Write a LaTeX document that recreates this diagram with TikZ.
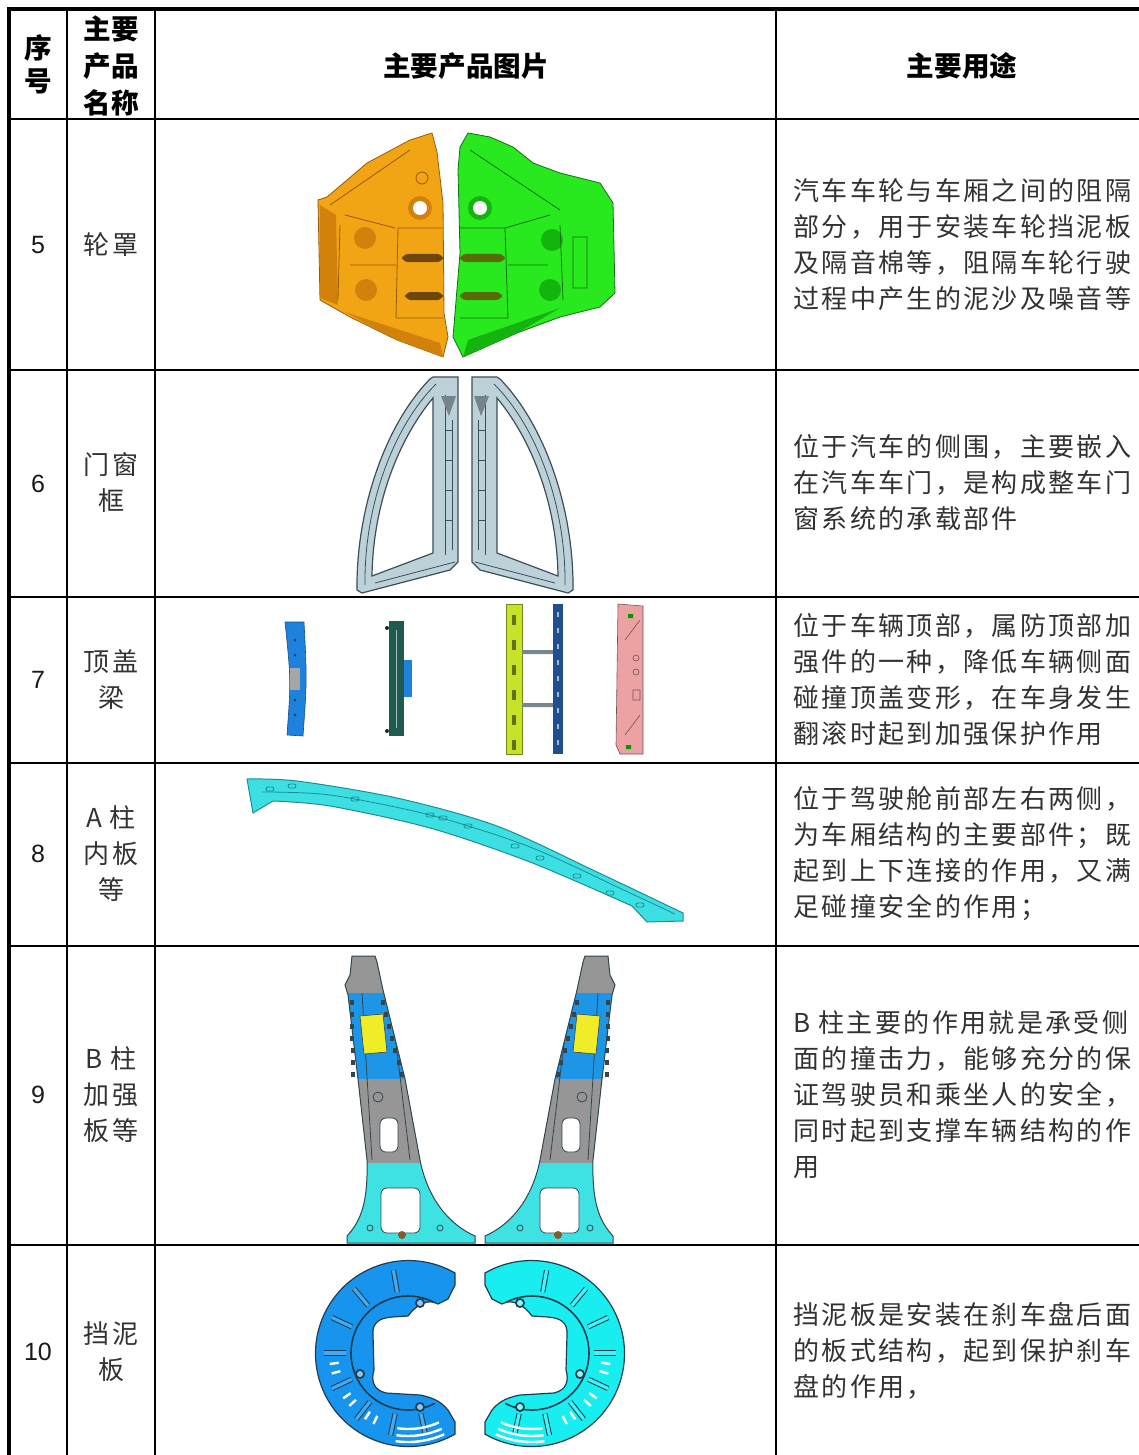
\documentclass[tikz,border=0pt]{standalone}
\usepackage{fontspec}
\usepackage{xcolor}
\setmainfont{Liberation Sans}
\newfontfamily\cjkfont[LetterSpace=9]{Noto Sans CJK SC}
\newfontfamily\cjkhead{Noto Sans CJK SC}
\definecolor{textGray}{RGB}{50,50,50}
\definecolor{housingOrange}{RGB}{242,165,20}
\definecolor{housingOrangeDark}{RGB}{210,130,10}
\definecolor{housingEdge}{RGB}{150,90,10}
\definecolor{housingGreen}{RGB}{40,232,30}
\definecolor{housingGreenDark}{RGB}{20,180,15}
\definecolor{housingGreenEdge}{RGB}{20,110,20}
\definecolor{housingSlot}{RGB}{110,70,10}
\definecolor{frameGray}{RGB}{188,210,216}
\definecolor{frameEdge}{RGB}{60,78,88}
\definecolor{beamBlue}{RGB}{30,130,220}
\definecolor{beamTeal}{RGB}{30,90,78}
\definecolor{beamLime}{RGB}{200,226,40}
\definecolor{beamNavy}{RGB}{30,78,140}
\definecolor{beamPink}{RGB}{236,162,162}
\definecolor{rodGray}{RGB}{120,135,140}
\definecolor{apillarCyan}{RGB}{60,224,226}
\definecolor{apillarEdge}{RGB}{30,140,150}
\definecolor{pillarCyan}{RGB}{62,226,226}
\definecolor{pillarGray}{RGB}{150,150,150}
\definecolor{pillarBlue}{RGB}{30,150,232}
\definecolor{pillarYellow}{RGB}{240,236,40}
\definecolor{pillarEdge}{RGB}{50,70,80}
\definecolor{shieldBlue}{RGB}{22,148,238}
\definecolor{shieldCyan}{RGB}{24,238,240}
\definecolor{shieldEdge}{RGB}{35,60,80}

% B-pillar outline, picture pixels
\newcommand{\pillaroutline}{(352,956) -- (375,956) -- (377,962) -- (383,990) -- (405,1079) -- (420,1160)
  .. controls (428,1200) and (450,1225) .. (475,1236) -- (475,1243) -- (347,1243) -- (347,1236)
  .. controls (362,1220) and (368,1200) .. (367,1160) -- (358,1079) -- (348,995) -- (345,985) -- (350,975) -- cycle}

\tikzset{
  doorframe/.pic={
    \path[fill=frameGray, draw=frameEdge, line width=0.6pt, even odd rule]
      (433,377) -- (458,377) -- (458,562) -- (450,570) -- (362,593) -- (357,590)
      .. controls (356,510) and (385,425) .. (430,379) -- cycle
      (433,398) -- (433,553) -- (372,576) .. controls (373,505) and (398,440) .. (433,398) -- cycle;
    \draw[frameEdge, line width=0.4pt] (365,585) .. controls (364,508) and (392,428) .. (436,384);
    \draw[frameEdge, line width=0.5pt] (445,395) -- (445,555) (452,420) -- (452,550);
    \fill[frameEdge!70] (441,396) -- (456,396) -- (449,416) -- cycle;
    \foreach \ty in {430,460,490,520} \draw[frameEdge, line width=0.5pt] (445,\ty) -- (452,\ty);
    \draw[frameEdge, line width=0.4pt] (375,583) -- (455,562);
  },
  bpillar/.pic={
    \begin{scope}
      \clip \pillaroutline;
      \fill[pillarCyan] (340,950) rectangle (480,1245);
      \fill[pillarGray] (340,950) rectangle (480,1163);
      \fill[pillarBlue] (340,993) rectangle (480,1079);
      \draw[pillarEdge, line width=0.4pt] (362,993) -- (372,1160) (390,993) -- (410,1160);
    \end{scope}
    \draw[pillarEdge, line width=0.5pt] \pillaroutline;
    \fill[pillarYellow, draw=pillarEdge, line width=0.3pt] (360,1016) -- (383,1014) -- (387,1052) -- (364,1054) -- cycle;
    \foreach \ty in {1000,1012,1024,1036,1048,1060,1072} {
      \fill[pillarEdge] (350+\ty*0.012-12,\ty) rectangle ++(4,5);
      \fill[pillarEdge] (383+\ty*0.26-262,\ty) rectangle ++(4,5);
    }
    \fill[white, draw=pillarEdge, rounded corners=3pt] (380,1118) rectangle (398,1152);
    \draw[pillarEdge] (378,1097) circle[radius=5];
    \fill[white, draw=pillarEdge, rounded corners=3pt] (381,1188) rectangle (420,1233);
    \fill[brown!70!black] (402,1235) circle[radius=4];
    \draw[pillarEdge] (370,1228) circle[radius=3] (440,1228) circle[radius=3];
  },
  splashshield/.pic={
    \path[fill=#1, draw=shieldEdge, line width=0.6pt]
      (455,1273) arc[start angle=-60, end angle=-300, radius=93] -- (455,1422) -- (448,1410)
      .. controls (440,1400) and (430,1397) .. (420,1395) -- (386,1393)
      .. controls (373,1390) and (371,1380) .. (374,1370) -- (373,1335)
      .. controls (372,1322) and (380,1318) .. (392,1317) -- (408,1316)
      .. controls (416,1305) and (428,1298) .. (438,1304) -- (448,1299) -- (455,1285) -- cycle;
    \draw[shieldEdge, line width=0.8pt] (408,1353) ++(-62:57) arc[start angle=-62, end angle=-298, radius=57];
    \foreach \a in {-100,-130,-155,-180,-205,-232,-258,-282}
      \draw[shieldEdge, line width=0.5pt, double=#1!80!white, double distance=1.6pt] (408,1353) ++(\a:62) -- ++(\a:22);
    \foreach \bx/\by in {420/1303,360/1374,420/1407} {
      \fill[shieldEdge] (\bx,\by) circle[radius=5];
      \fill[#1!50!white] (\bx,\by) circle[radius=3];
    }
    \foreach \r in {76,83,89}
      \draw[white, line width=1.2pt] (408,1353) ++(66:\r) arc[start angle=66, end angle=98, radius=\r];
    \foreach \a in {165,172,138,145,116,123}
      \draw[white, line width=1.2pt] (408,1353) ++(\a:70) -- ++(\a:9);
  },
}

\begin{document}
\begin{tikzpicture}[x=0.5pt, y=-0.5pt,
  rule/.style={line width=1pt},
  outerrule/.style={line width=2pt},
  headtext/.style={font=\fontsize{13.8}{18.5}\selectfont\cjkhead\bfseries, align=center, inner sep=0pt},
  numtext/.style={font=\fontsize{12.5}{15}\selectfont, text=black!90, inner sep=0pt},
  nametext/.style={font=\fontsize{13}{18}\selectfont\cjkfont, text=textGray, align=center, inner sep=0pt},
  desctext/.style={font=\fontsize{13}{18}\selectfont\cjkfont, text=textGray, align=left, anchor=west, inner sep=0pt},
]
\useasboundingbox (0,0) rectangle (1139,1455);

% table rules
\draw[outerrule] (9,1455) -- (9,9) -- (1139,9);
\draw[rule] (67,9) -- (67,1455) (155,9) -- (155,1455) (776,9) -- (776,1455);
\draw[rule] (9,119) -- (1139,119) (9,370) -- (1139,370) (9,597) -- (1139,597)
  (9,763) -- (1139,763) (9,946) -- (1139,946) (9,1245) -- (1139,1245);

% header
\node[headtext, font=\fontsize{13.8}{16.5}\selectfont\cjkhead\bfseries] (hnum) at (38,64) {序\\号};
\node[headtext] (hname) at (111,66) {主要\\产品\\名称};
\node[headtext] (hpic) at (466,66) {主要产品图片};
\node[headtext] (huse) at (962,66) {主要用途};

% numbers and names
\node[numtext] (n5) at (38,245) {5};
\node[numtext] (n6) at (38,484) {6};
\node[numtext] (n7) at (38,680) {7};
\node[numtext] (n8) at (38,854) {8};
\node[numtext] (n9) at (38,1095) {9};
\node[numtext] (n10) at (38,1352) {10};
\node[nametext] (name5) at (111,245) {轮罩};
\node[nametext] (name6) at (111,483) {门窗\\框};
\node[nametext] (name7) at (111,680) {顶盖\\梁};
\node[nametext] (name8) at (111,854) {A 柱\\内板\\等};
\node[nametext] (name9) at (111,1095) {B 柱\\加强\\板等};
\node[nametext] (name10) at (111,1352) {挡泥\\板};

% uses
\node[desctext] (use5) at (793,245) {汽车车轮与车厢之间的阻隔\\部分，用于安装车轮挡泥板\\及隔音棉等，阻隔车轮行驶\\过程中产生的泥沙及噪音等};
\node[desctext] (use6) at (793,483) {位于汽车的侧围，主要嵌入\\在汽车车门，是构成整车门\\窗系统的承载部件};
\node[desctext] (use7) at (793,680) {位于车辆顶部，属防顶部加\\强件的一种，降低车辆侧面\\碰撞顶盖变形，在车身发生\\翻滚时起到加强保护作用};
\node[desctext] (use8) at (793,854) {位于驾驶舱前部左右两侧，\\为车厢结构的主要部件；既\\起到上下连接的作用，又满\\足碰撞安全的作用；};
\node[desctext] (use9) at (793,1095) {B 柱主要的作用就是承受侧\\面的撞击力，能够充分的保\\证驾驶员和乘坐人的安全，\\同时起到支撑车辆结构的作\\用};
\node[desctext] (use10) at (793,1351) {挡泥板是安装在刹车盘后面\\的板式结构，起到保护刹车\\盘的作用，};

% wheel housing, orange half
\fill[housingOrange, draw=housingEdge, line width=0.4pt] (432,133) -- (437,152) -- (443,203) -- (444,313) -- (448,337)
  -- (443,357) -- (397,340) -- (350,317) -- (320,300) -- (318,200) -- (327,197) -- (367,163) -- (410,140) -- cycle;
\fill[housingOrangeDark] (320,205) -- (336,215) -- (338,305) -- (320,298) -- cycle;
\fill[housingOrangeDark] (345,312) -- (440,343) -- (443,357) -- (397,340) -- cycle;
\fill[housingOrangeDark] (365,238) circle[radius=11] (366,290) circle[radius=11];
\fill[housingOrangeDark] (420,208) circle[radius=12];
\fill[white] (420,208) circle[radius=7];
\draw[housingEdge] (422,178) circle[radius=6];
\draw[housingEdge, line width=0.4pt] (398,228) -- (443,228) (398,228) -- (396,318) -- (443,318)
  (330,205) -- (410,150) (345,215) -- (395,228) (340,225) -- (338,300) (350,265) -- (396,265);
\fill[housingSlot, rounded corners=3pt] (402,254) rectangle (443,262) (405,292) rectangle (443,300);

% wheel housing, green half
\fill[housingGreen, draw=housingGreenEdge, line width=0.4pt] (468,133) -- (490,137) -- (513,147) -- (533,163) -- (560,173)
  -- (600,183) -- (613,203) -- (615,293) -- (600,307) -- (560,317) -- (517,333) -- (463,357) -- (453,337) -- (460,253)
  -- (458,170) -- (460,147) -- cycle;
\fill[housingGreenDark] (463,357) -- (468,340) -- (560,308) -- (517,333) -- cycle;
\fill[housingGreenDark] (552,240) circle[radius=11] (550,290) circle[radius=11];
\fill[housingGreenDark] (480,208) circle[radius=12];
\fill[white] (480,208) circle[radius=7];
\draw[housingGreenEdge, line width=0.4pt] (460,228) -- (505,228) -- (508,318) -- (460,318)
  (470,150) -- (560,210) (505,228) -- (550,215) (560,225) -- (563,300) (508,265) -- (548,265)
  (573,237) rectangle (587,288);
\fill[housingSlot!80!green, rounded corners=3pt] (460,254) rectangle (505,262) (460,292) rectangle (502,300);

% door window frames
\pic {doorframe};
\begin{scope}[shift={(930,0)}, xscale=-1]
  \pic[transform shape] {doorframe};
\end{scope}

% roof beams
\fill[beamBlue, draw=beamBlue!60!black, line width=0.3pt] (285,622) .. controls (291,680) .. (287,735) -- (303,736)
  .. controls (307,680) .. (304,622) -- cycle;
\fill[gray!70] (290,668) rectangle (300,690);
\foreach \ty in {640,655,700,715} \fill[beamBlue!50!black] (295,\ty) circle[radius=1.5];
\fill[beamTeal] (389,621) rectangle (404,736);
\fill[beamBlue] (404,660) rectangle (412,697);
\fill[beamTeal!50!black] (387,628) circle[radius=2] (387,731) circle[radius=2];
\draw[beamTeal!40!white, line width=0.3pt] (396,630) -- (396,728);
\fill[beamLime, draw=beamLime!60!black, line width=0.3pt] (506,604) rectangle (522,754);
\foreach \ty in {615,640,665,690,715,740} \fill[beamLime!50!black] (512,\ty) rectangle ++(4,10);
\fill[rodGray] (522,650) rectangle (553,654) (522,703) rectangle (553,707);
\fill[beamNavy] (553,604) rectangle (563,754);
\foreach \ty in {612,628,644,660,676,692,708,724,740} \fill[beamNavy!40!white] (557,\ty) rectangle ++(2,5);
\fill[beamPink, draw=beamPink!50!black, line width=0.3pt] (618,604) -- (643,606) -- (643,754) -- (620,754)
  -- (616,745) -- cycle;
\draw[beamPink!50!black, line width=0.3pt] (625,640) -- (640,620) (625,735) -- (640,715) (636,658) circle[radius=3]
  (636,672) circle[radius=3] (633,690) rectangle (640,700);
\fill[green!60!black] (628,614) rectangle ++(5,4) (626,745) rectangle ++(5,4);

% A pillar inner panel
\fill[apillarCyan, draw=apillarEdge, line width=0.5pt] plot[smooth] coordinates {(247,779) (297,781) (397,798) (497,826) (597,872) (683,913)}
  -- (683,921) -- (647,922) -- plot[smooth] coordinates {(632,906) (530,862) (430,828) (330,806) (273,801)} -- (253,813) -- cycle;
\draw[apillarEdge, line width=0.4pt] plot[smooth] coordinates {(262,792) (330,795) (430,815) (530,847) (630,893) (675,914)};
\foreach \sx/\sy in {270/789,292/786,355/799,430/815,443/818,468/826,515/846,540/858,577/876,610/893,640/905}
  \draw[apillarEdge, line width=0.4pt, rounded corners=1pt] (\sx-4,\sy-2) rectangle (\sx+4,\sy+2);

% B pillar reinforcements
\pic {bpillar};
\begin{scope}[shift={(960,0)}, xscale=-1]
  \pic[transform shape] {bpillar};
\end{scope}

% splash shields
\pic {splashshield=shieldBlue};
\begin{scope}[shift={(940,0)}, xscale=-1]
  \pic[transform shape] {splashshield=shieldCyan};
\end{scope}
\end{tikzpicture}
\end{document}
